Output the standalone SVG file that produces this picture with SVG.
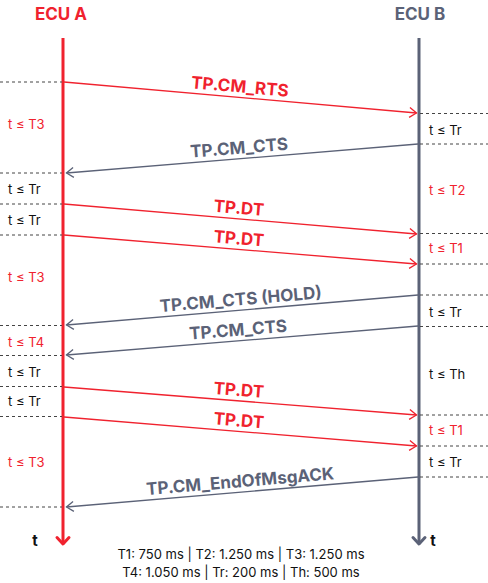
<svg xmlns="http://www.w3.org/2000/svg" width="488" height="583" viewBox="0 0 488 583">
<defs>
<style>
text{font-family:Inter,"Noto Sans","Liberation Sans",sans-serif}
.title{font-size:17px;font-weight:700;text-anchor:middle}
.lbl{font-size:17px;font-weight:700;text-anchor:middle}
.tm{font-size:13px}
.red{fill:#f0222e}
.gry{fill:#5b6277}
.blk{fill:#111}
.dash{stroke:#444;stroke-width:1;stroke-dasharray:3 3;fill:none}
.mr{stroke:#f0222e;stroke-width:1.3;fill:none;marker-end:url(#ar)}
.mg{stroke:#5b6277;stroke-width:1.3;fill:none;marker-end:url(#ag)}
.leg{font-size:13px;fill:#111;text-anchor:middle}
</style>
<marker id="ar" markerUnits="userSpaceOnUse" markerWidth="12" markerHeight="12" viewBox="-9 -6 10 12" refX="0" refY="0" orient="auto">
<path d="M-7,-5 L0,0 L-7,5" stroke="#f0222e" stroke-width="1.3" fill="none"/>
</marker>
<marker id="ag" markerUnits="userSpaceOnUse" markerWidth="12" markerHeight="12" viewBox="-9 -6 10 12" refX="0" refY="0" orient="auto">
<path d="M-7,-5 L0,0 L-7,5" stroke="#5b6277" stroke-width="1.3" fill="none"/>
</marker>
</defs>
<rect width="488" height="583" fill="#fff"/>

<g id="ecuA">
<text class="title red" x="61" y="20">ECU A</text>
<line x1="63" y1="38" x2="63" y2="544" stroke="#f0222e" stroke-width="3"/>
<path d="M57,537.5 L63,544 L69,537.5" stroke="#f0222e" stroke-width="3" fill="none" stroke-linecap="round" stroke-linejoin="round"/>
<text x="35" y="546" text-anchor="middle" font-size="15" font-weight="700" class="blk">t</text>
</g>
<g id="ecuB">
<text class="title gry" x="420" y="20">ECU B</text>
<line x1="419" y1="38" x2="419" y2="544" stroke="#5b6277" stroke-width="3"/>
<path d="M413,537.5 L419,544 L425,537.5" stroke="#5b6277" stroke-width="3" fill="none" stroke-linecap="round" stroke-linejoin="round"/>
<text x="433" y="546" text-anchor="middle" font-size="15" font-weight="700" class="blk">t</text>
</g>

<g id="guides">
<line class="dash" x1="0" y1="82" x2="62" y2="82"/>
<line class="dash" x1="0" y1="173" x2="62" y2="173"/>
<line class="dash" x1="0" y1="204" x2="62" y2="204"/>
<line class="dash" x1="0" y1="235" x2="62" y2="235"/>
<line class="dash" x1="0" y1="325.5" x2="62" y2="325.5"/>
<line class="dash" x1="0" y1="355.5" x2="62" y2="355.5"/>
<line class="dash" x1="0" y1="386.5" x2="62" y2="386.5"/>
<line class="dash" x1="0" y1="416.5" x2="62" y2="416.5"/>
<line class="dash" x1="0" y1="507" x2="62" y2="507"/>
<line class="dash" x1="420" y1="113.5" x2="488" y2="113.5"/>
<line class="dash" x1="420" y1="144" x2="488" y2="144"/>
<line class="dash" x1="420" y1="233.5" x2="488" y2="233.5"/>
<line class="dash" x1="420" y1="264" x2="488" y2="264"/>
<line class="dash" x1="420" y1="295" x2="488" y2="295"/>
<line class="dash" x1="420" y1="326.5" x2="488" y2="326.5"/>
<line class="dash" x1="420" y1="415" x2="488" y2="415"/>
<line class="dash" x1="420" y1="446" x2="488" y2="446"/>
<line class="dash" x1="420" y1="477" x2="488" y2="477"/>
</g>

<g id="connectors">
<line class="mr" x1="64" y1="82" x2="416.5" y2="113"/>
<line class="mg" x1="418" y1="144" x2="66.5" y2="173"/>
<line class="mr" x1="64" y1="204" x2="416.5" y2="234"/>
<line class="mr" x1="64" y1="235" x2="416.5" y2="264"/>
<line class="mg" x1="418" y1="295" x2="66.5" y2="325"/>
<line class="mg" x1="418" y1="326" x2="66.5" y2="355"/>
<line class="mr" x1="64" y1="387" x2="416.5" y2="415"/>
<line class="mr" x1="64" y1="417" x2="416.5" y2="446"/>
<line class="mg" x1="418" y1="477" x2="66.5" y2="507"/>
</g>

<g id="labels">
<text class="lbl red" transform="translate(239,97.4) rotate(4.98)" y="-5">TP.CM_RTS</text>
<text class="lbl gry" transform="translate(240,158.6) rotate(-4.66)" y="-5">TP.CM_CTS</text>
<text class="lbl red" transform="translate(238,218.9) rotate(4.82)" y="-5">TP.DT</text>
<text class="lbl red" transform="translate(238,249.4) rotate(4.66)" y="-5">TP.DT</text>
<text class="lbl gry" transform="translate(241.5,310.1) rotate(-4.82)" y="-5">TP.CM_CTS (HOLD)</text>
<text class="lbl gry" transform="translate(239,340.6) rotate(-4.66)" y="-5">TP.CM_CTS</text>
<text class="lbl red" transform="translate(238,400.9) rotate(4.5)" y="-5">TP.DT</text>
<text class="lbl red" transform="translate(238,431.4) rotate(4.66)" y="-5">TP.DT</text>
<text class="lbl gry" transform="translate(241,492.1) rotate(-4.82)" y="-5">TP.CM_EndOfMsgACK</text>
</g>

<g id="timers">
<text class="tm red" x="8" y="128.5">t ≤ T3</text>
<text class="tm blk" x="8" y="194">t ≤ Tr</text>
<text class="tm blk" x="8" y="225">t ≤ Tr</text>
<text class="tm red" x="8" y="282">t ≤ T3</text>
<text class="tm red" x="8" y="347">t ≤ T4</text>
<text class="tm blk" x="8" y="377">t ≤ Tr</text>
<text class="tm blk" x="8" y="406">t ≤ Tr</text>
<text class="tm red" x="8" y="467">t ≤ T3</text>
<text class="tm blk" x="429" y="135">t ≤ Tr</text>
<text class="tm red" x="429" y="195">t ≤ T2</text>
<text class="tm red" x="429" y="253">t ≤ T1</text>
<text class="tm blk" x="429" y="317">t ≤ Tr</text>
<text class="tm blk" x="429" y="379">t ≤ Th</text>
<text class="tm red" x="429" y="435">t ≤ T1</text>
<text class="tm blk" x="429" y="466.5">t ≤ Tr</text>
</g>

<g id="legend">
<text class="leg" x="241" y="559">T1: 750 ms | T2: 1.250 ms | T3: 1.250 ms</text>
<text class="leg" x="241" y="577">T4: 1.050 ms | Tr: 200 ms | Th: 500 ms</text>
</g>
</svg>
